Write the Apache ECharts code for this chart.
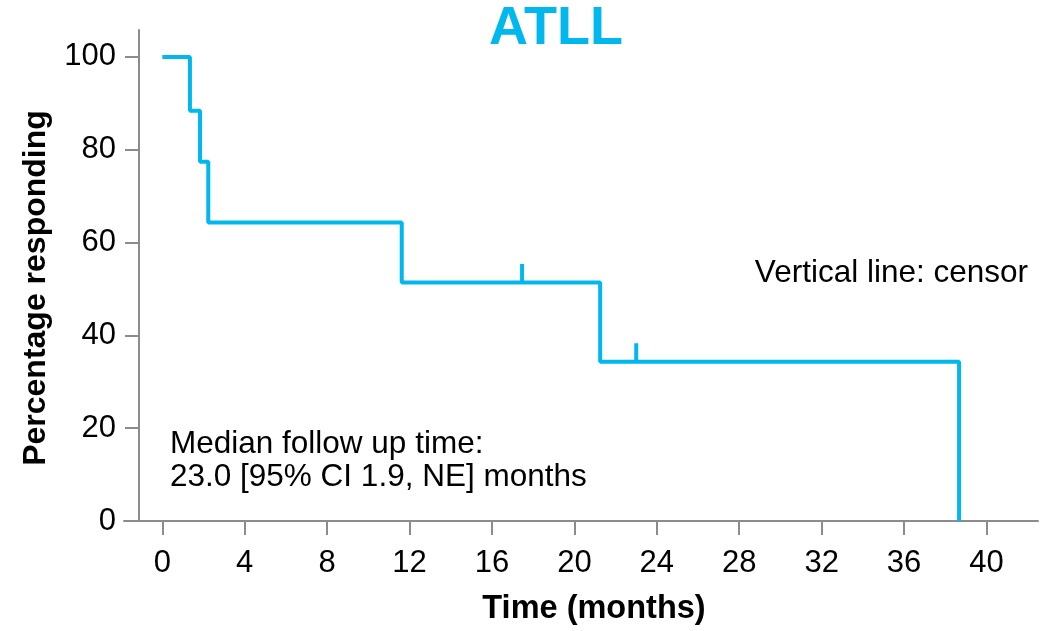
<!DOCTYPE html>
<html>
<head>
<meta charset="utf-8">
<script src="https://cdn.jsdelivr.net/npm/echarts@6/dist/echarts.min.js"></script>
<style>
  html, body { margin: 0; padding: 0; background: #fff; }
  #chart { width: 1056px; height: 631px; }
</style>
</head>
<body>
<div id="chart"></div>
<script>
// Kaplan-Meier steps (months, % responding)
const stepTimes = [0, 1.34, 1.83, 2.23, 11.62, 21.25, 38.67];
const stepValues = [100, 88.4, 77.4, 64.3, 51.4, 34.3, 0];
// censored observations
const censorTimes = [17.46, 23.0];
const censorValues = [51.4, 34.3];
const xTicks = [0, 4, 8, 12, 16, 20, 24, 28, 32, 36, 40];
const yTicks = [0, 20, 40, 60, 80, 100];

const blue = '#00b8ee';
const axisGray = '#8c8c8c';
const font = 'Liberation Sans, Arial, sans-serif';
const censorHeight = 4;

const chart = echarts.init(document.getElementById('chart'));

const option = {
  animation: false,
  backgroundColor: '#fff',
  grid: { left: 124, right: 18, top: 30, bottom: 110 },
  xAxis: {
    type: 'value',
    min: -1.86,
    max: 42.5,
    splitLine: { show: false },
    axisLine: { show: true, onZero: false, lineStyle: { color: axisGray, width: 2 } },
    axisTick: { show: true, customValues: xTicks, length: 14, lineStyle: { color: axisGray, width: 2 } },
    axisLabel: { customValues: xTicks, margin: 27, fontSize: 31, color: '#000', fontFamily: font }
  },
  yAxis: {
    type: 'value',
    min: 0,
    max: 105.8,
    offset: -15,
    splitLine: { show: false },
    axisLine: { show: true, onZero: false, lineStyle: { color: axisGray, width: 2 } },
    axisTick: { show: true, customValues: yTicks, length: 14, lineStyle: { color: axisGray, width: 2 } },
    axisLabel: { customValues: yTicks, margin: 23, fontSize: 31, color: '#000', fontFamily: font }
  },
  series: [
    {
      type: 'line',
      step: 'end',
      showSymbol: false,
      data: stepTimes.map((t, i) => [t, stepValues[i]]),
      lineStyle: { color: blue, width: 4 },
      itemStyle: { color: blue }
    },
    {
      type: 'custom',
      data: censorTimes.map((t, i) => [t, censorValues[i]]),
      renderItem: function (params, api) {
        const p0 = api.coord([api.value(0), api.value(1)]);
        const p1 = api.coord([api.value(0), api.value(1) + censorHeight]);
        return {
          type: 'line',
          shape: { x1: p0[0], y1: p0[1], x2: p1[0], y2: p1[1] },
          style: { stroke: blue, lineWidth: 4 }
        };
      }
    }
  ],
  graphic: [
    {
      type: 'text', x: 556, y: 29,
      style: { text: 'ATLL', fill: blue, font: 'bold 54px ' + font, textAlign: 'center', textVerticalAlign: 'middle' }
    },
    {
      type: 'text', x: 594, y: 609,
      style: { text: 'Time (months)', fill: '#000', font: 'bold 32.5px ' + font, textAlign: 'center', textVerticalAlign: 'middle' }
    },
    {
      type: 'text', x: 36, y: 288, rotation: Math.PI / 2,
      style: { text: 'Percentage responding', fill: '#000', font: 'bold 32px ' + font, textAlign: 'center', textVerticalAlign: 'middle' }
    },
    {
      type: 'text', x: 1028, y: 273,
      style: { text: 'Vertical line: censor', fill: '#000', font: '31.5px ' + font, textAlign: 'right', textVerticalAlign: 'middle' }
    },
    {
      type: 'text', x: 170, y: 444,
      style: { text: 'Median follow up time:', fill: '#000', font: '31.5px ' + font, textAlign: 'left', textVerticalAlign: 'middle' }
    },
    {
      type: 'text', x: 170, y: 477,
      style: { text: '23.0 [95% CI 1.9, NE] months', fill: '#000', font: '31.5px ' + font, textAlign: 'left', textVerticalAlign: 'middle' }
    }
  ]
};

chart.setOption(option);
</script>
</body>
</html>
